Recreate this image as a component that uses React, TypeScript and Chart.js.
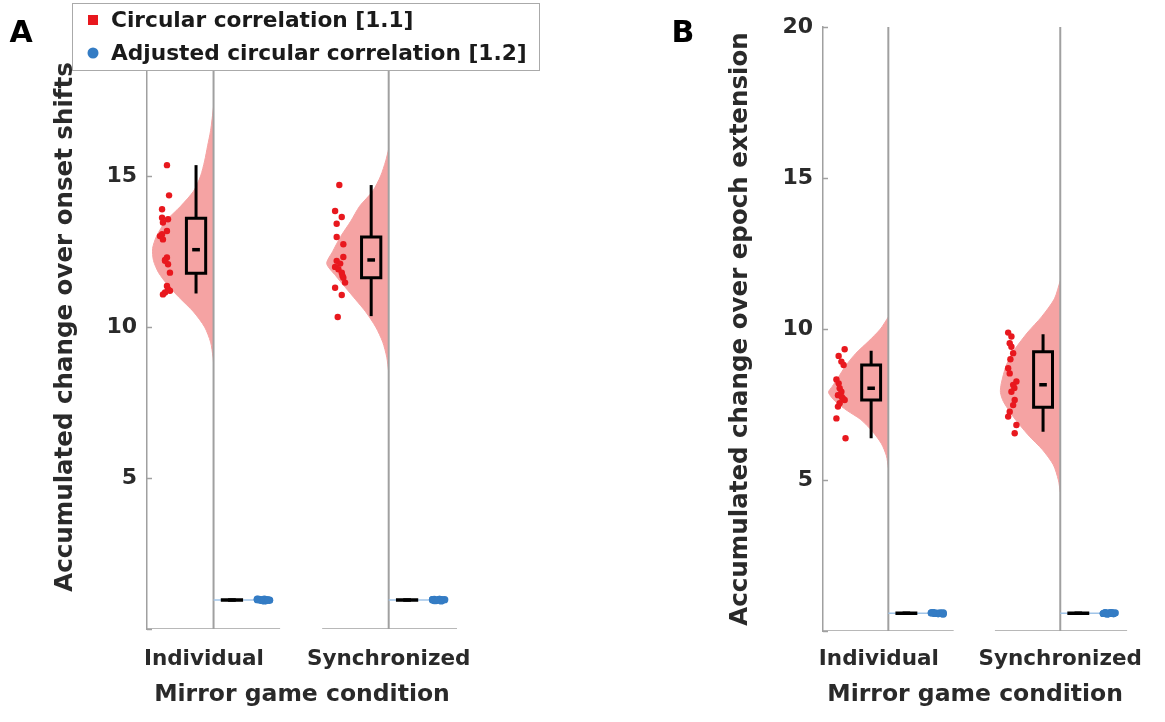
import React, { useEffect, useRef } from 'react';
import { Chart, registerables } from 'chart.js';

Chart.register(...registerables);

// ---------------- DATA ----------------
const categories = ['Individual', 'Synchronized'];
const categoryTickPositions = [0.945, 2.0];
const yTicks = [0, 5, 10, 15, 20];
const legendLabels = ['Circular correlation [1.1]', 'Adjusted circular correlation [1.2]'];

// Panel A – Individual
const aIndCirc = [15.36, 14.36, 13.9, 13.62, 13.57, 13.46, 13.18, 13.07, 13.01, 12.9, 12.3, 12.22, 12.19, 12.08, 11.8, 11.36, 11.25, 11.2, 11.14, 11.08];
const aIndCircJit = [-0.266, -0.254, -0.294, -0.294, -0.26, -0.289, -0.266, -0.294, -0.306, -0.289, -0.266, -0.277, -0.277, -0.26, -0.249, -0.266, -0.26, -0.249, -0.277, -0.289];
const aIndCircBox = [11.11, 11.78, 12.56, 13.6, 15.36];
const aIndViolinY = [17.3, 16.5, 16.0, 15.5, 15.0, 14.5, 14.0, 13.5, 13.0, 12.6, 12.2, 11.8, 11.4, 11.0, 10.5, 10.0, 9.5, 9.0, 8.8];
const aIndViolinW = [0, 0.017, 0.034, 0.051, 0.074, 0.114, 0.188, 0.274, 0.326, 0.348, 0.343, 0.314, 0.263, 0.2, 0.114, 0.051, 0.017, 0.003, 0];
const aIndAdj = [0.99, 0.97, 0.95, 0.96, 0.98, 0.94, 0.97, 0.95, 0.96, 0.93, 0.98, 0.96, 0.95, 0.97, 0.94, 0.96, 0.99, 0.95, 0.97, 0.96];
const aIndAdjJit = [0.25, 0.27, 0.29, 0.31, 0.26, 0.28, 0.3, 0.32, 0.27, 0.29, 0.25, 0.31, 0.28, 0.26, 0.3, 0.32, 0.29, 0.27, 0.25, 0.31];
const aIndAdjBox = [0.93, 0.95, 0.96, 0.97, 0.99];
const aIndAdjDensity = 0.27;

// Panel A – Synchronized
const aSyncCirc = [14.7, 13.84, 13.64, 13.42, 12.98, 12.74, 12.32, 12.19, 12.1, 11.99, 11.91, 11.8, 11.7, 11.63, 11.47, 11.3, 11.06, 10.33];
const aSyncCircJit = [-0.282, -0.306, -0.268, -0.297, -0.297, -0.259, -0.259, -0.297, -0.277, -0.306, -0.287, -0.268, -0.264, -0.259, -0.249, -0.306, -0.268, -0.291];
const aSyncCircBox = [10.36, 11.63, 12.22, 12.98, 14.7];
const aSyncViolinY = [15.9, 15.5, 15.0, 14.5, 14.0, 13.5, 13.0, 12.5, 12.1, 11.7, 11.3, 10.9, 10.5, 10.0, 9.5, 9.0, 8.5];
const aSyncViolinW = [0, 0.017, 0.046, 0.091, 0.166, 0.217, 0.274, 0.32, 0.354, 0.303, 0.246, 0.188, 0.131, 0.074, 0.034, 0.011, 0];
const aSyncAdj = [0.98, 0.96, 0.95, 0.97, 0.94, 0.96, 0.98, 0.95, 0.97, 0.96, 0.93, 0.97, 0.95, 0.96, 0.98, 0.94, 0.96, 0.97];
const aSyncAdjJit = [0.26, 0.28, 0.3, 0.25, 0.27, 0.31, 0.29, 0.26, 0.32, 0.28, 0.3, 0.25, 0.27, 0.31, 0.29, 0.26, 0.28, 0.3];
const aSyncAdjBox = [0.93, 0.95, 0.96, 0.97, 0.98];
const aSyncAdjDensity = 0.27;

// Panel B – Individual
const bIndCirc = [9.33, 9.11, 8.92, 8.81, 8.33, 8.2, 8.04, 7.92, 7.81, 7.75, 7.7, 7.65, 7.54, 7.43, 7.04, 6.38];
const bIndCircJit = [-0.254, -0.289, -0.273, -0.26, -0.302, -0.289, -0.283, -0.273, -0.293, -0.271, -0.264, -0.254, -0.283, -0.293, -0.302, -0.249];
const bIndCircBox = [6.38, 7.65, 8.04, 8.81, 9.28];
const bIndViolinY = [10.4, 10.0, 9.6, 9.2, 8.8, 8.4, 8.1, 7.9, 7.6, 7.3, 7.0, 6.6, 6.2, 5.8, 5.4];
const bIndViolinW = [0, 0.046, 0.114, 0.188, 0.246, 0.291, 0.326, 0.348, 0.308, 0.24, 0.16, 0.091, 0.04, 0.011, 0];
const bIndAdj = [0.6, 0.58, 0.57, 0.59, 0.61, 0.58, 0.6, 0.56, 0.59, 0.58, 0.6, 0.57, 0.59, 0.61, 0.58, 0.6];
const bIndAdjJit = [0.25, 0.27, 0.29, 0.31, 0.26, 0.28, 0.3, 0.32, 0.27, 0.29, 0.25, 0.31, 0.28, 0.26, 0.3, 0.32];
const bIndAdjBox = [0.56, 0.58, 0.59, 0.6, 0.61];
const bIndAdjDensity = 0.27;

// Panel B – Synchronized
const bSyncCirc = [9.88, 9.75, 9.53, 9.41, 9.2, 9.0, 8.7, 8.53, 8.26, 8.15, 8.05, 7.92, 7.65, 7.48, 7.26, 7.1, 6.82, 6.55];
const bSyncCircJit = [-0.303, -0.284, -0.294, -0.284, -0.274, -0.29, -0.303, -0.294, -0.255, -0.274, -0.267, -0.284, -0.265, -0.274, -0.294, -0.303, -0.255, -0.265];
const bSyncCircBox = [6.6, 7.41, 8.15, 9.25, 9.83];
const bSyncViolinY = [11.6, 11.0, 10.4, 9.9, 9.3, 8.8, 8.2, 7.9, 7.6, 7.1, 6.5, 6.0, 5.5, 5.0, 4.6];
const bSyncViolinW = [0, 0.034, 0.109, 0.188, 0.268, 0.314, 0.343, 0.348, 0.331, 0.274, 0.188, 0.103, 0.04, 0.011, 0];
const bSyncAdj = [0.59, 0.57, 0.6, 0.58, 0.56, 0.59, 0.61, 0.58, 0.6, 0.57, 0.59, 0.58, 0.6, 0.57, 0.59, 0.61, 0.58, 0.6];
const bSyncAdjJit = [0.26, 0.28, 0.3, 0.25, 0.27, 0.31, 0.29, 0.26, 0.32, 0.28, 0.3, 0.25, 0.27, 0.31, 0.29, 0.26, 0.28, 0.3];
const bSyncAdjBox = [0.56, 0.58, 0.59, 0.6, 0.61];
const bSyncAdjDensity = 0.27;

// ---------------- STYLE ----------------
const FONT = "'DejaVu Sans', 'Liberation Sans', sans-serif";
const RED = 'rgb(232, 24, 30)';
const VIOLIN = 'rgb(245, 163, 163)';
const BLUE = 'rgb(52, 124, 196)';
const BLUE_LIGHT = 'rgb(160, 196, 232)';
const AXIS = 'rgb(160, 160, 160)';
const TEXT = '#2a2a2a';
const BOX_HALF = 0.055;
const BOX_OFFSET = 0.1;
const ADJ_BOX_OFFSET = 0.105;
const MED_HALF = 0.022;
const X_MIN = 0.62;
const X_MAX = 2.39;
const AXIS_SEGMENTS = [[0.62, 1.38], [1.62, 2.39]];

type Group = {
  center: number;
  circ: number[]; circJit: number[]; circBox: number[];
  violinY: number[]; violinW: number[];
  adj: number[]; adjJit: number[]; adjBox: number[]; adjDensity: number;
};

const panels = [
  {
    letter: 'A',
    yTitle: 'Accumulated change over onset shifts',
    layout: { left: 0, width: 600, yWidth: 147, padRight: 143, padTop: 25, xHeight: 93, tickPad: 18, yTitlePad: 51.3, letterX: 21, legend: true },
    groups: [
      { center: 1, circ: aIndCirc, circJit: aIndCircJit, circBox: aIndCircBox, violinY: aIndViolinY, violinW: aIndViolinW, adj: aIndAdj, adjJit: aIndAdjJit, adjBox: aIndAdjBox, adjDensity: aIndAdjDensity },
      { center: 2, circ: aSyncCirc, circJit: aSyncCircJit, circBox: aSyncCircBox, violinY: aSyncViolinY, violinW: aSyncViolinW, adj: aSyncAdj, adjJit: aSyncAdjJit, adjBox: aSyncAdjBox, adjDensity: aSyncAdjDensity },
    ] as Group[],
  },
  {
    letter: 'B',
    yTitle: 'Accumulated change over epoch extension',
    layout: { left: 600, width: 565, yWidth: 223, padRight: 32, padTop: 27, xHeight: 91, tickPad: 16, yTitlePad: 126.3, letterX: 83, legend: false },
    groups: [
      { center: 1, circ: bIndCirc, circJit: bIndCircJit, circBox: bIndCircBox, violinY: bIndViolinY, violinW: bIndViolinW, adj: bIndAdj, adjJit: bIndAdjJit, adjBox: bIndAdjBox, adjDensity: bIndAdjDensity },
      { center: 2, circ: bSyncCirc, circJit: bSyncCircJit, circBox: bSyncCircBox, violinY: bSyncViolinY, violinW: bSyncViolinW, adj: bSyncAdj, adjJit: bSyncAdjJit, adjBox: bSyncAdjBox, adjDensity: bSyncAdjDensity },
    ] as Group[],
  },
];

// ---------------- HELPERS ----------------
function lineDs(data: { x: number; y: number }[], color: string, width: number, order: number, extra: any = {}) {
  return {
    data,
    showLine: true,
    borderColor: color,
    borderWidth: width,
    pointRadius: 0,
    pointHoverRadius: 0,
    fill: false,
    order,
    ...extra,
  };
}

function boxDatasets(c: number, s: number[], color: string, width: number, order: number) {
  const [lo, q1, med, q3, hi] = s;
  const h = BOX_HALF;
  return [
    lineDs([
      { x: c - h, y: q1 }, { x: c + h, y: q1 }, { x: c + h, y: q3 }, { x: c - h, y: q3 }, { x: c - h, y: q1 }, { x: c + h, y: q1 },
    ], color, width, order, { borderJoinStyle: 'miter' }),
    lineDs([{ x: c, y: q3 }, { x: c, y: hi }], color, width, order),
    lineDs([{ x: c, y: lo }, { x: c, y: q1 }], color, width, order),
    lineDs([{ x: c - MED_HALF, y: med }, { x: c + MED_HALF, y: med }], color, 3.5, order),
  ];
}

function buildDatasets(groups: Group[]) {
  const ds: any[] = [];
  AXIS_SEGMENTS.forEach(([a, b]) => ds.push(lineDs([{ x: a, y: 0 }, { x: b, y: 0 }], AXIS, 1.5, 6)));
  groups.forEach((g) => {
    const pts = [{ x: g.center, y: g.violinY[0] }];
    g.violinY.forEach((y, i) => pts.push({ x: g.center - g.violinW[i], y }));
    pts.push({ x: g.center, y: g.violinY[g.violinY.length - 1] });
    ds.push(lineDs(pts, VIOLIN, 1, 7, { fill: 'shape', backgroundColor: VIOLIN, tension: 0.25 }));
    ds.push(lineDs([{ x: g.center, y: 0 }, { x: g.center, y: 20 }], AXIS, 2, 5));
    const am = g.adjBox[2];
    ds.push(lineDs([{ x: g.center, y: am }, { x: g.center + g.adjDensity, y: am }], BLUE_LIGHT, 1.5, 4));
    ds.push(...boxDatasets(g.center - BOX_OFFSET, g.circBox, '#000', 3, 2));
    ds.push(...boxDatasets(g.center + ADJ_BOX_OFFSET, g.adjBox, '#000', 3, 2));
    ds.push({
      data: g.circ.map((v, i) => ({ x: g.center + g.circJit[i], y: v })),
      backgroundColor: RED, borderWidth: 0, pointRadius: 3.2, pointHoverRadius: 3.2, order: 0,
    });
    ds.push({
      data: g.adj.map((v, i) => ({ x: g.center + g.adjJit[i], y: v })),
      backgroundColor: BLUE, borderWidth: 0, pointRadius: 3.6, pointHoverRadius: 3.6, order: 0,
    });
  });
  return ds;
}

function decorPlugin(letter: string, letterX: number, withLegend: boolean) {
  return {
    id: 'decor' + letter,
    afterDraw(chart: any) {
      const { ctx } = chart;
      const y = chart.scales.y;
      ctx.save();
      ctx.strokeStyle = AXIS;
      ctx.lineWidth = 1.5;
      yTicks.forEach((v) => {
        const py = Math.round(y.getPixelForValue(v)) + 0.5;
        ctx.beginPath();
        ctx.moveTo(y.right, py);
        ctx.lineTo(y.right + 5, py);
        ctx.stroke();
      });
      ctx.fillStyle = '#000';
      ctx.font = `bold 30px ${FONT}`;
      ctx.textAlign = 'center';
      ctx.textBaseline = 'middle';
      ctx.fillText(letter, letterX, 34);
      if (withLegend) {
        ctx.fillStyle = '#fff';
        ctx.fillRect(72, 3, 468, 68);
        ctx.strokeStyle = 'rgb(170,170,170)';
        ctx.lineWidth = 1;
        ctx.strokeRect(72.5, 3.5, 467, 67);
        ctx.fillStyle = RED;
        ctx.fillRect(88, 15, 10, 10);
        ctx.fillStyle = BLUE;
        ctx.beginPath();
        ctx.arc(93, 53, 5.5, 0, Math.PI * 2);
        ctx.fill();
        ctx.fillStyle = '#1a1a1a';
        ctx.font = `bold 21.7px ${FONT}`;
        ctx.textAlign = 'left';
        ctx.textBaseline = 'middle';
        ctx.fillText(legendLabels[0], 111, 21);
        ctx.fillText(legendLabels[1], 111, 54);
      }
      ctx.restore();
    },
  };
}

function PanelChart({ panel }: { panel: typeof panels[number] }) {
  const ref = useRef<HTMLCanvasElement>(null);
  useEffect(() => {
    if (!ref.current) return;
    const L = panel.layout;
    const chart = new Chart(ref.current, {
      type: 'scatter',
      data: { datasets: buildDatasets(panel.groups) },
      options: {
        responsive: false,
        animation: false,
        events: [],
        layout: { padding: { left: 0, right: L.padRight, top: L.padTop, bottom: 0 }, autoPadding: false } as any,
        plugins: { legend: { display: false }, tooltip: { enabled: false } },
        scales: {
          x: {
            type: 'linear',
            min: X_MIN,
            max: X_MAX,
            afterBuildTicks: (ax: any) => { ax.ticks = categoryTickPositions.map((v) => ({ value: v })); },
            afterFit: (ax: any) => { ax.height = L.xHeight; },
            ticks: {
              callback: (_v: any, i: number) => categories[i],
              font: { family: FONT, weight: 'bold', size: 21.5 },
              color: TEXT,
              padding: L.tickPad,
              maxRotation: 0,
              autoSkip: false,
            },
            grid: { display: false, drawTicks: false },
            border: { display: false },
            title: {
              display: true,
              text: 'Mirror game condition',
              font: { family: FONT, weight: 'bold', size: 23.5 },
              color: TEXT,
              padding: { top: 0, bottom: 13 },
            },
          },
          y: {
            type: 'linear',
            min: 0,
            max: 20,
            afterBuildTicks: (ax: any) => { ax.ticks = yTicks.map((v) => ({ value: v })); },
            afterFit: (ax: any) => { ax.width = L.yWidth; },
            ticks: {
              callback: (v: any) => (v === 0 ? '' : String(v)),
              font: { family: FONT, weight: 'bold', size: 22 },
              color: TEXT,
              padding: 10,
            },
            grid: { display: false, drawTicks: false },
            border: { display: true, color: AXIS, width: 1.5 },
            title: {
              display: true,
              text: panel.yTitle,
              font: { family: FONT, weight: 'bold', size: 24.5 },
              color: TEXT,
              padding: { top: L.yTitlePad, bottom: 0 },
            },
          },
        },
      } as any,
      plugins: [decorPlugin(panel.letter, L.letterX, L.legend)],
    });
    return () => chart.destroy();
  }, [panel]);
  const L = panel.layout;
  return (
    <canvas
      ref={ref}
      width={L.width}
      height={722}
      style={{ position: 'absolute', left: L.left, top: 0, width: L.width, height: 722 }}
    />
  );
}

export default function App() {
  return (
    <div style={{ position: 'absolute', left: 0, top: 0, width: 1165, height: 722, background: '#fff', overflow: 'hidden' }}>
      {panels.map((p) => (
        <PanelChart key={p.letter} panel={p} />
      ))}
    </div>
  );
}
